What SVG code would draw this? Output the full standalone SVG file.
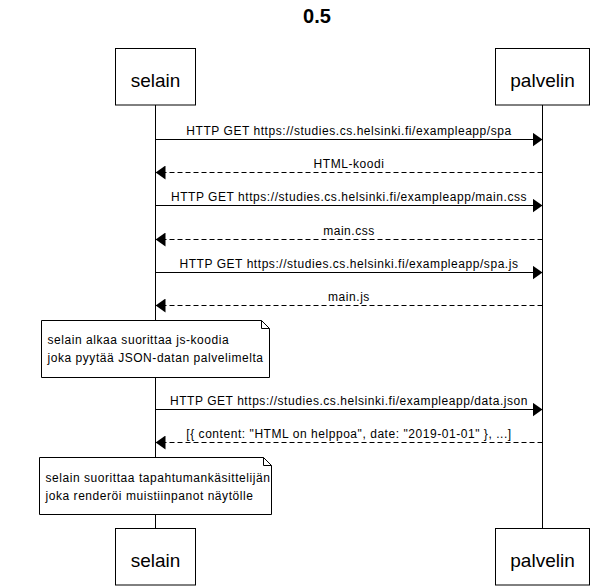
<svg xmlns="http://www.w3.org/2000/svg" width="612" height="588" viewBox="0 0 612 588">
<style>
.box{fill:#fff;stroke:#000;stroke-width:1}
.life{stroke:#000;stroke-width:1}
.pt{font-family:"Liberation Sans",Arial,sans-serif;font-size:19px;text-anchor:middle;fill:#000}
.lbl{font-family:"Liberation Sans",Arial,sans-serif;font-size:12px;letter-spacing:0.55px;text-anchor:middle;fill:#000}
.nt{font-family:"Liberation Sans",Arial,sans-serif;font-size:12px;letter-spacing:0.55px;fill:#000}
.req{stroke:#000;stroke-width:1;fill:none;marker-end:url(#ah)}
.res{stroke:#000;stroke-width:1;fill:none;stroke-dasharray:5,3;marker-end:url(#ah)}
.title{font-family:"Liberation Sans",Arial,sans-serif;font-size:20px;font-weight:bold;text-anchor:middle;fill:#000}
</style>
<defs>
<marker id="ah" markerUnits="userSpaceOnUse" markerWidth="10" markerHeight="14" refX="10" refY="7" orient="auto">
<path d="M0,0 L10,7 L0,14 z" fill="#000"/>
</marker>
</defs>
<rect width="612" height="588" fill="#fff"/>
<text class="title" x="317" y="23">0.5</text>
<g id="lifelines">
<line class="life" x1="155.5" y1="105" x2="155.5" y2="528"/>
<line class="life" x1="542.5" y1="105" x2="542.5" y2="528"/>
</g>
<g id="selain-top">
<rect class="box" x="115.5" y="48.5" width="80" height="56.5"/>
<text class="pt" x="155.5" y="86.5">selain</text>
</g>
<g id="palvelin-top">
<rect class="box" x="495.5" y="48.5" width="94" height="56.5"/>
<text class="pt" x="542.5" y="86.5">palvelin</text>
</g>
<g id="connectors">
<line class="req" x1="155.5" y1="139.5" x2="542.5" y2="139.5"/>
<text class="lbl" x="349" y="135">HTTP GET https://studies.cs.helsinki.fi/exampleapp/spa</text>
<line class="res" x1="542.5" y1="172.5" x2="155.5" y2="172.5"/>
<text class="lbl" x="349" y="168">HTML-koodi</text>
<line class="req" x1="155.5" y1="205.5" x2="542.5" y2="205.5"/>
<text class="lbl" x="349" y="201">HTTP GET https://studies.cs.helsinki.fi/exampleapp/main.css</text>
<line class="res" x1="542.5" y1="239.5" x2="155.5" y2="239.5"/>
<text class="lbl" x="349" y="235">main.css</text>
<line class="req" x1="155.5" y1="272.5" x2="542.5" y2="272.5"/>
<text class="lbl" x="349" y="268">HTTP GET https://studies.cs.helsinki.fi/exampleapp/spa.js</text>
<line class="res" x1="542.5" y1="305.5" x2="155.5" y2="305.5"/>
<text class="lbl" x="349" y="301">main.js</text>
<line class="req" x1="155.5" y1="409.5" x2="542.5" y2="409.5"/>
<text class="lbl" x="349" y="405">HTTP GET https://studies.cs.helsinki.fi/exampleapp/data.json</text>
<line class="res" x1="542.5" y1="442.5" x2="155.5" y2="442.5"/>
<text class="lbl" x="349" y="438">[{ content: "HTML on helppoa", date: "2019-01-01" }, ...]</text>
</g>
<g id="note1">
<path class="box" d="M41.5,320.5 H261.5 L269.5,328.5 V377.5 H41.5 Z"/>
<path d="M261.5,320.5 V328.5 H269.5" fill="none" stroke="#000" stroke-width="1"/>
<text class="nt" x="47.5" y="344">selain alkaa suorittaa js-koodia</text>
<text class="nt" x="47.5" y="362">joka pyytää JSON-datan palvelimelta</text>
</g>
<g id="note2">
<path class="box" d="M39.5,457.5 H263.5 L271.5,465.5 V514.5 H39.5 Z"/>
<path d="M263.5,457.5 V465.5 H271.5" fill="none" stroke="#000" stroke-width="1"/>
<text class="nt" x="45.5" y="482">selain suorittaa tapahtumankäsittelijän</text>
<text class="nt" x="45.5" y="500">joka renderöi muistiinpanot näytölle</text>
</g>
<g id="selain-bottom">
<rect class="box" x="115.5" y="528.5" width="80" height="56.5"/>
<text class="pt" x="155.5" y="566.5">selain</text>
</g>
<g id="palvelin-bottom">
<rect class="box" x="495.5" y="528.5" width="94" height="56.5"/>
<text class="pt" x="542.5" y="566.5">palvelin</text>
</g>
</svg>
